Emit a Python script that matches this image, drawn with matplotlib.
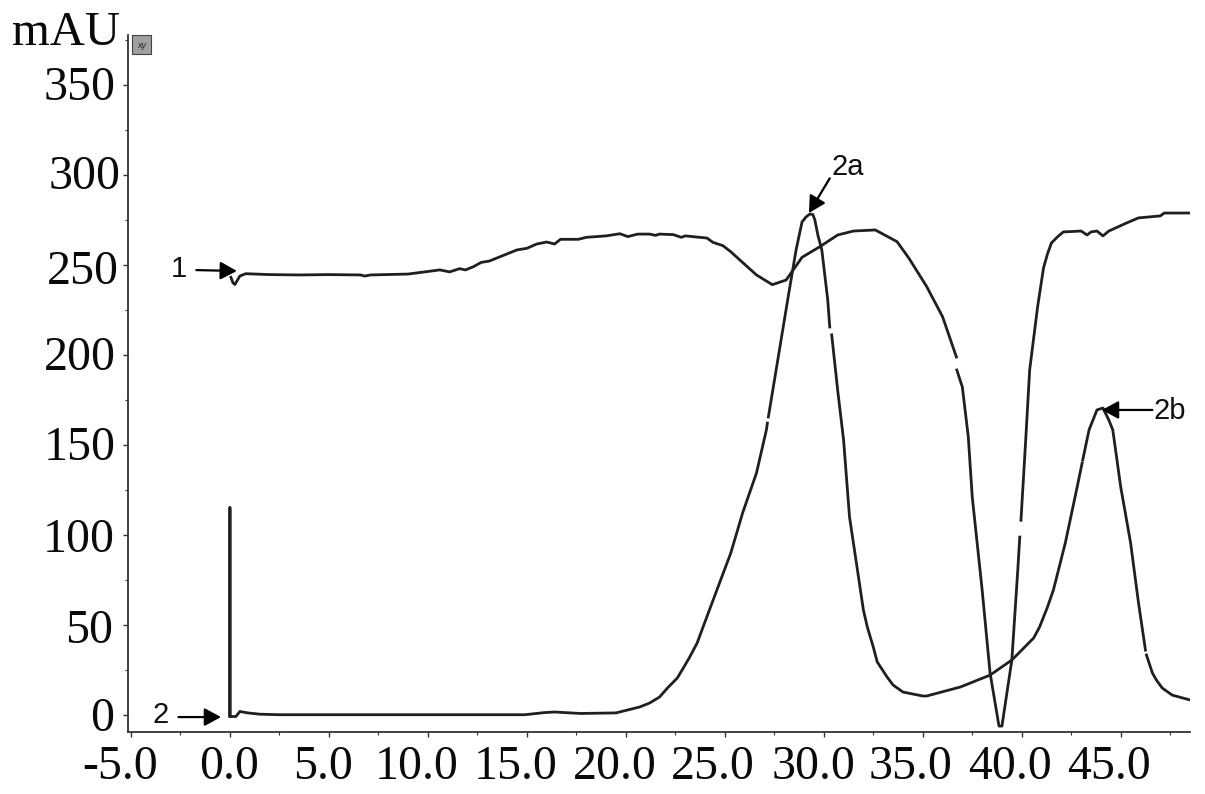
import numpy as np
import matplotlib
matplotlib.use('Agg')
import matplotlib.pyplot as plt
from matplotlib.patches import Rectangle
from matplotlib.ticker import MultipleLocator
from matplotlib.transforms import Affine2D

nan = np.nan

# Trace 1
x1 = [0.05, 0.15, 0.25, 0.5, 0.8, 2.0, 3.5, 5.0, 6.6, 6.8, 7.1, 9.0, 10.6, 11.1, 11.6, 11.9, 12.3, 12.7, 13.1,
      14.0, 14.5, 15.0, 15.5, 16.0, 16.4, 16.7, 17.6, 18.0, 19.0, 19.7, 20.1, 20.6, 21.2, 21.5, 21.7, 22.4,
      22.8, 23.0, 24.1, 24.4, 24.9, 25.3, 25.8, 26.6, 27.4, 28.1, 28.9, 29.8, 30.7, 31.5, 32.6, 33.7, 34.3,
      35.2, 36.0, 36.7, 36.7, 36.72, 37.0, 37.3, 37.5, 38.0, 38.4, 38.85, 39.0, 39.5, 39.8, 39.9, 39.92, 39.96,
      40.2, 40.4, 40.8, 41.1, 41.3, 41.5, 41.8, 42.1, 43.0, 43.3, 43.5, 43.8, 44.1, 44.4, 45.3, 45.9, 47.0, 47.2, 48.5]
y1 = [243, 240, 239, 243.7, 245, 244.5, 244.3, 244.5, 244.3, 243.7, 244.3, 244.8, 247.1, 246, 247.8, 247.1, 248.9,
      251.3, 252, 256, 258.2, 259.1, 261.5, 262.6, 261.5, 264.1, 264.1, 265.2, 266, 267.2, 265.6, 267, 267,
      266.3, 267, 266.7, 265.2, 266, 264.8, 262.4, 260.6, 257.2, 252.2, 244.3, 238.9, 241.5, 254.1, 260,
      266.5, 268.7, 269.3, 262.8, 253.6, 237.8, 221.1, 198.7, nan, 191.5, 182, 154.3, 120.9, 69.3, 23.2,
      -6.3, -6.3, 30.4, 80.4, 98.7, nan, 108, 152.6, 191.5, 226.5, 248.2, 256, 262.1, 265.4, 268.2, 268.7, 266.5,
      268.2, 268.7, 266, 268.7, 273.2, 276, 277.1, 278.7, 278.7]

# Trace 2
x2 = [0.0, 0.0, 0.0, 0.3, 0.5, 0.9, 1.5, 2.5, 8.0, 14.9, 15.9, 16.4, 17.7, 19.5, 20.7, 21.2, 21.7, 22.1, 22.6, 22.9,
      23.2, 23.6, 23.9, 24.6, 25.3, 25.9, 26.6, 27.1, 27.15, 27.18, 27.2, 27.7, 28.2, 28.6, 28.9, 29.1, 29.3,
      29.45, 29.55, 29.7, 29.9, 30.2, 30.3, 30.33, 30.4, 30.7, 31.0, 31.3, 31.7, 32.0, 32.2, 32.5, 32.7, 33.2,
      33.5, 34.0, 35.0, 35.2, 36.9, 38.4, 39.5, 39.9, 40.6, 40.9, 41.3, 41.6, 42.2, 42.8, 43.05, 43.07, 43.08,
      43.4, 43.8, 44.1, 44.4, 44.6, 45.0, 45.5, 45.9, 46.25, 46.28, 46.3, 46.6, 46.8, 47.1, 47.6, 48.5]
y2 = [-1, 115, -1, -1, 1.8, 1, 0.3, 0, 0, 0, 1.2, 1.5, 0.7, 1, 4.3, 6.5, 9.8, 14.8, 20.4, 25.9, 31.5, 39.8, 48.7,
      69.3, 89.8, 112.1, 134.3, 158.2, 162, nan, 165.4, 198.7, 232.1, 258.2, 273.7, 276.5, 278.2, 277.8, 274.8,
      266.5, 258.2, 230.4, 215.4, nan, 211, 180.4, 152.6, 109.8, 80.4, 58.2, 48.7, 37.6, 29.3, 20.9, 16.5, 12.6,
      10.4, 10.4, 15.4, 22, 30.4, 34.8, 42.6, 48.7, 59.8, 69.3, 95.4, 126.5, 139.8, nan, 141.5, 158.2, 169.3, 170.4,
      163.7, 158.2, 126.5, 95.4, 62, 35.9, nan, 33.2, 23.2, 19.3, 14.8, 10.9, 8.2]

x_ticks = [-5, 0, 5, 10, 15, 20, 25, 30, 35, 40, 45]
y_ticks = [0, 50, 100, 150, 200, 250, 300, 350]

# the labels sit a bit off their ticks in the original (pixels)
x_label_dx = [-11, -1, -6, -11, -11, -11, -12, -10, -12, -12, -12]
y_label_dx = [-5, -6, -4, -3, -3, 0, 2, -3]
y_label_dy = [1, -1, 0, 2, 2, -2, 3, 2]

W, H = 1205, 794
fig = plt.figure(figsize=(W/100, H/100), dpi=100)
ax = fig.add_axes([128/W, 1-732/H, (1190-128)/W, (732-35)/H])

ink = '#1f1f1f'
ax.plot(x1, y1, color=ink, lw=2.0, solid_joinstyle='round')
ax.plot(x2, y2, color=ink, lw=2.0, solid_joinstyle='round')

ax.set_xlim(-5.15, 48.5)
ax.set_ylim(-9.6, 377.6)
ax.spines['top'].set_visible(False)
ax.spines['right'].set_visible(False)
ax.spines['left'].set_color('#333333')
ax.spines['bottom'].set_color('#333333')
ax.spines['left'].set_linewidth(1.3)
ax.spines['bottom'].set_linewidth(1.3)

ax.set_xticks(x_ticks)
ax.set_xticklabels(['%.1f' % v for v in x_ticks])
ax.set_yticks(y_ticks)
ax.xaxis.set_minor_locator(MultipleLocator(2.5))
ax.yaxis.set_minor_locator(MultipleLocator(25))
ax.tick_params(which='major', length=3.5, width=1, color='#333333', labelsize=34.5, pad=3)
ax.tick_params(axis='x', which='major', pad=6)
ax.tick_params(which='minor', length=2, width=0.8, color='#333333')
for lab in ax.get_xticklabels() + ax.get_yticklabels():
    lab.set_family('Liberation Serif')
    lab.set_color('#0a0a0a')
for lab, dx in zip(ax.get_xticklabels(), x_label_dx):
    lab.set_transform(lab.get_transform() + Affine2D().translate(dx, 0))
for lab, dx, dy in zip(ax.get_yticklabels(), y_label_dx, y_label_dy):
    lab.set_transform(lab.get_transform() + Affine2D().translate(dx, dy))

fig.text(12/W, 1-45/H, 'mAU', family='Liberation Serif', fontsize=35, color='#0a0a0a', ha='left', va='baseline')

# little xy button at the top of the axis
fig.patches.append(Rectangle((132/W, 1-54/H), 19/W, 19/H, transform=fig.transFigure, facecolor='#a0a0a0',
                             edgecolor='#444444', lw=0.8, figure=fig))
fig.text(141.5/W, 1-45/H, 'xy', family='Liberation Sans', fontsize=6.5, style='italic', color='#222222',
         ha='center', va='center')

# labels and arrows
arrow = dict(arrowstyle='-|>,head_length=1.0,head_width=0.54', mutation_scale=10, color='black', lw=1.6,
             shrinkA=0, shrinkB=0)
ax.annotate('', xy=(0.35, 246.5), xytext=(-1.7, 247), arrowprops=arrow)
ax.annotate('', xy=(-0.45, -1.3), xytext=(-2.6, -1.3), arrowprops=arrow)
ax.annotate('', xy=(29.25, 278.7), xytext=(30.3, 298), arrowprops=arrow)
ax.annotate('', xy=(44.05, 169.3), xytext=(46.6, 169.3), arrowprops=arrow)
for tx, ty, s in [(-2.6, 247.5, '1'), (-3.5, 0, '2'), (31.2, 304, '2a'), (47.5, 168.7, '2b')]:
    ax.text(tx, ty, s, family='Liberation Sans', fontsize=21, color='#111111', ha='center', va='center')

fig.savefig('out.png', dpi=100)
